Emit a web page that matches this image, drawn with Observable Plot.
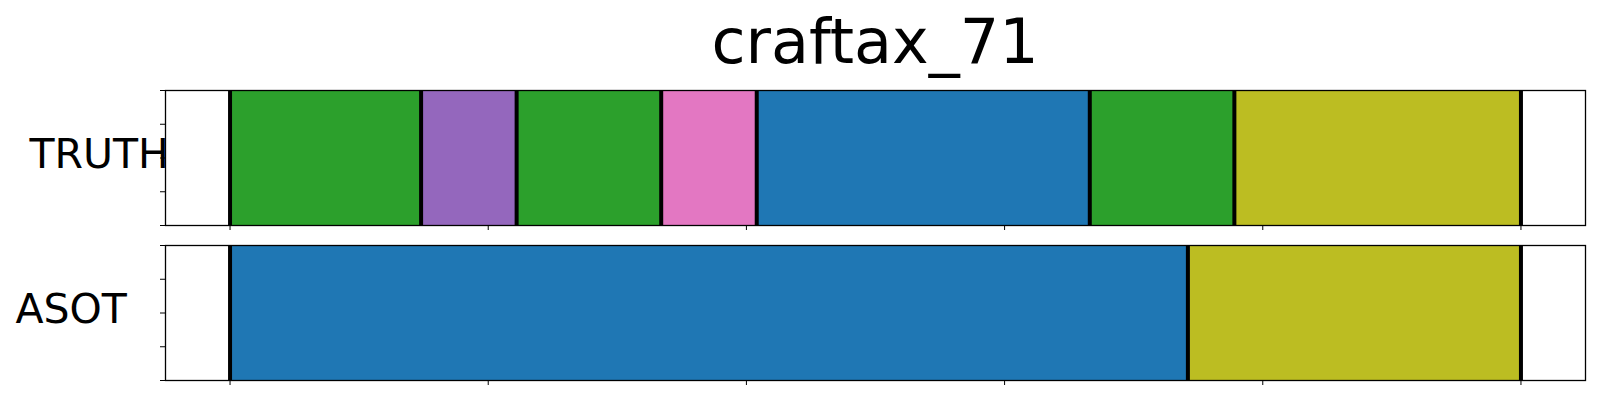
<!DOCTYPE html>
<html>
<head>
<meta charset="utf-8">
<script src="https://cdn.jsdelivr.net/npm/d3@7"></script>
<script src="https://cdn.jsdelivr.net/npm/@observablehq/plot@0.6"></script>
<style>
  html, body { margin: 0; padding: 0; background: white; }
  #title {
    width: 1600px; box-sizing: border-box; padding-left: 150px;
    height: 84px; line-height: 84px; text-align: center;
    font-family: "DejaVu Sans", sans-serif; font-size: 62px; color: black;
  }
  svg { display: block; }
</style>
</head>
<body>
<div id="title">craftax_71</div>
<div id="chart"></div>
<script>
const title = "craftax_71";
const rows = ["TRUTH", "ASOT"];
const truthBounds = [0, 74, 111, 167, 204, 333, 389, 500];
const truthColors = ["#2ca02c", "#9467bd", "#2ca02c", "#e377c2", "#1f77b4", "#2ca02c", "#bcbd22"];
const asotBounds = [0, 371, 500];
const asotColors = ["#1f77b4", "#bcbd22"];
const xTicks = [0, 100, 200, 300, 400, 500];
const yTicks = [0, 0.25, 0.5, 0.75, 1];
const xDomain = [-25, 525];

function segs(row, bounds, colors) {
  return colors.map((c, i) => ({row, start: bounds[i], end: bounds[i + 1], color: c}));
}
function lines(row, bounds) {
  return bounds.map(b => ({row, x: b}));
}
const segments = [...segs("TRUTH", truthBounds, truthColors), ...segs("ASOT", asotBounds, asotColors)];
const boundaries = [...lines("TRUTH", truthBounds), ...lines("ASOT", asotBounds)];

document.getElementById("title").textContent = title;

const chart = Plot.plot({
  width: 1600,
  height: 316,
  marginLeft: 165,
  marginRight: 15,
  marginTop: 6,
  marginBottom: 20,
  style: {fontFamily: "DejaVu Sans", background: "white", color: "black"},
  x: {domain: xDomain},
  y: {domain: [0, 1]},
  fy: {domain: rows, paddingInner: 20 / 155, paddingOuter: 0, axis: null},
  marks: [
    Plot.rect(segments, {x1: "start", x2: "end", fy: "row", fill: "color"}),
    Plot.ruleX(boundaries, {x: "x", fy: "row", stroke: "black", strokeWidth: 4}),
    Plot.frame({stroke: "black", strokeWidth: 1.3}),
    Plot.axisX({ticks: xTicks, tickFormat: () => "", tickSize: 5, label: null, facetAnchor: null}),
    Plot.axisY({ticks: yTicks, tickFormat: () => "", tickSize: 5, label: null}),
    Plot.text([{row: "TRUTH"}], {fy: "row", text: "row", frameAnchor: "left", textAnchor: "start", dx: -136, dy: -3, fontSize: 41, fill: "black"}),
    Plot.text([{row: "ASOT"}], {fy: "row", text: "row", frameAnchor: "left", textAnchor: "start", dx: -150, dy: -3, fontSize: 41, fill: "black"})
  ]
});
document.getElementById("chart").append(chart);
</script>
</body>
</html>
